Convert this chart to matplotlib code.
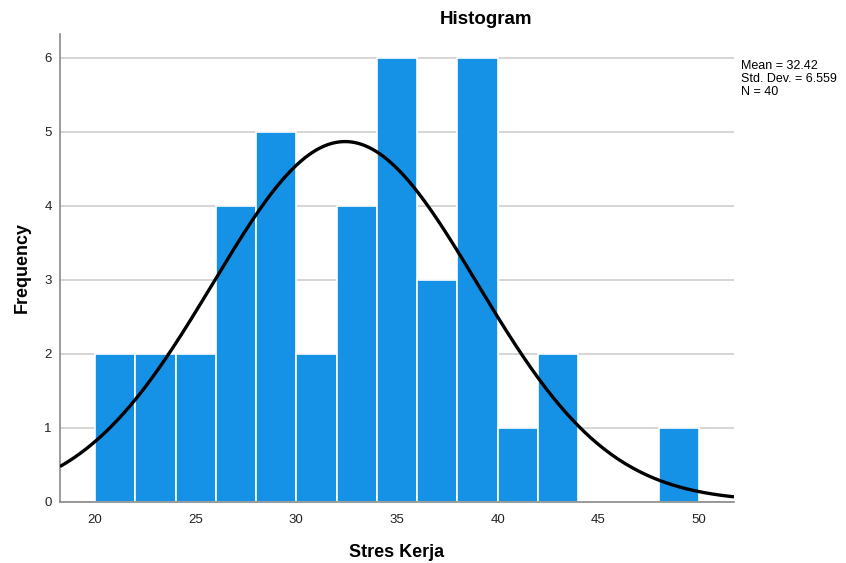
import numpy as np
import matplotlib.pyplot as plt

plt.rcParams["font.family"] = ["Liberation Sans", "DejaVu Sans"]

# histogram data (bin width 2)
bin_left = [20, 22, 24, 26, 28, 30, 32, 34, 36, 38, 40, 42, 44, 46, 48]
counts = [2, 2, 2, 4, 5, 2, 4, 6, 3, 6, 1, 2, 0, 0, 1]
bin_width = 2

mean = 32.42
std_dev = 6.559
n_obs = 40

x_ticks = [20, 25, 30, 35, 40, 45, 50]
y_ticks = [0, 1, 2, 3, 4, 5, 6]

bar_color = "#1591E6"

fig = plt.figure(figsize=(8.46, 5.63), dpi=100)
ax = fig.add_axes([0.0709, 0.1092, 0.7967, 0.8304])

ax.bar(bin_left, counts, width=bin_width, align="edge", color=bar_color,
       edgecolor="white", linewidth=1.2, zorder=2)

# normal curve scaled to counts
xs = np.linspace(18.26, 51.74, 400)
ys = n_obs * bin_width / (std_dev * np.sqrt(2 * np.pi)) * np.exp(-0.5 * ((xs - mean) / std_dev) ** 2)
ax.plot(xs, ys, color="black", linewidth=2.4, zorder=3, solid_capstyle="butt")

ax.set_xlim(18.26, 51.74)
ax.set_ylim(0, 6.32)
ax.set_xticks(x_ticks)
ax.set_yticks(y_ticks)
ax.tick_params(length=0, labelsize=9.5, colors="#222222")
ax.tick_params(axis="x", pad=9)
ax.tick_params(axis="y", pad=6)

ax.yaxis.grid(True, color="#d2d2d2", linewidth=1.3, zorder=0)
ax.set_axisbelow(True)
for side in ("top", "right"):
    ax.spines[side].set_visible(False)
for side in ("left", "bottom"):
    ax.spines[side].set_color("#8a8a8a")
    ax.spines[side].set_linewidth(1.2)

ax.set_xlabel("Stres Kerja", fontsize=13, fontweight="bold", labelpad=13)
ax.set_ylabel("Frequency", fontsize=13, fontweight="bold", labelpad=10)

fig.text(0.5745, 0.966, "Histogram", fontsize=13.5, fontweight="bold",
         ha="center", va="center")

stats = [f"Mean = {mean:.2f}", f"Std. Dev. = {std_dev:.3f}", f"N = {n_obs}"]
for i, line in enumerate(stats):
    fig.text(741 / 846, 1 - (66 + i * 13) / 563, line, fontsize=9,
             ha="left", va="center")

fig.savefig("out.png", dpi=100)
